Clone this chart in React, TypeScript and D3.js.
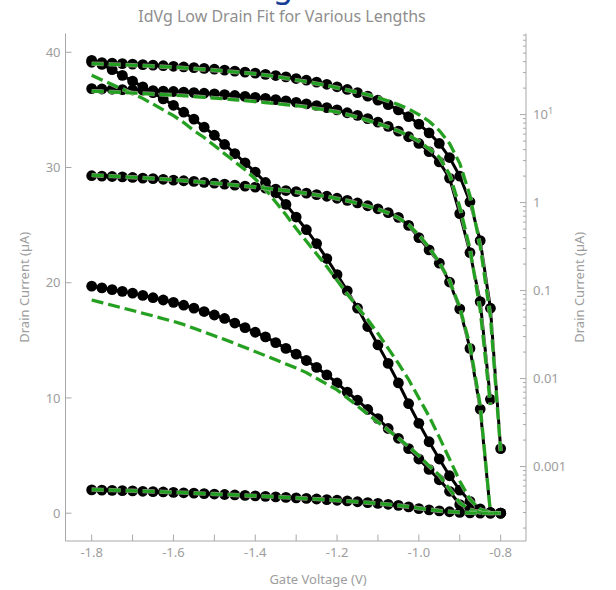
import React from 'react';
import * as d3 from 'd3';

// gate sweep, V
const gateVoltage = [
  -1.8, -1.775, -1.75, -1.725, -1.7, -1.675, -1.65, -1.625, -1.6, -1.575,
  -1.55, -1.525, -1.5, -1.475, -1.45, -1.425, -1.4, -1.375, -1.35, -1.325,
  -1.3, -1.275, -1.25, -1.225, -1.2, -1.175, -1.15, -1.125, -1.1, -1.075,
  -1.05, -1.025, -1.0, -0.975, -0.95, -0.925, -0.9, -0.875, -0.85, -0.825, -0.8,
];

// measured drain current, uA
const currentShort = [
  39.3, 38.95, 38.5, 38.0, 37.5, 37.0, 36.5, 35.95, 35.4, 34.8,
  34.2, 33.5, 32.8, 32.0, 31.2, 30.4, 29.6, 28.7, 27.8, 26.8,
  25.7, 24.6, 23.4, 22.1, 20.7, 19.3, 17.8, 16.2, 14.6, 13.0,
  11.3, 9.5, 7.8, 6.2, 4.7, 3.25, 2.0, 1.02, 0.37, 0.063, 0.0016,
];
const currentMid = [
  19.7, 19.55, 19.4, 19.25, 19.1, 18.9, 18.7, 18.5, 18.3, 18.05,
  17.8, 17.5, 17.2, 16.9, 16.5, 16.1, 15.7, 15.3, 14.8, 14.3,
  13.8, 13.25, 12.65, 12.0, 11.3, 10.5, 9.8, 9.0, 8.2, 7.35,
  6.5, 5.6, 4.7, 3.8, 2.9, 1.9, 0.75, 0.27, 0.075, 0.0058, 0,
];
const currentLong = [
  2.02, 2.0, 1.98, 1.96, 1.93, 1.9, 1.87, 1.84, 1.8, 1.77,
  1.74, 1.7, 1.66, 1.62, 1.58, 1.54, 1.5, 1.46, 1.42, 1.37,
  1.33, 1.28, 1.23, 1.18, 1.12, 1.06, 0.99, 0.92, 0.85, 0.77,
  0.68, 0.55, 0.4, 0.29, 0.205, 0.125, 0.062, 0.022, 0.0045, 0.0003, 0,
];

// model fits, uA
const fitShort = [
  38.0, 37.6, 37.2, 36.8, 36.4, 36.0, 35.5, 35.0, 34.5, 33.9,
  33.2, 32.6, 31.9, 31.2, 30.5, 29.8, 29.0, 28.1, 27.0, 25.9,
  24.7, 23.6, 22.5, 21.4, 20.2, 19.0, 17.9, 16.8, 15.6, 14.3,
  13.0, 11.6, 10.0, 8.4, 6.6, 4.7, 2.8, 1.2, 0.32, 0.05, 0.0015,
];
const fitMid = [
  18.5, 18.27, 18.04, 17.82, 17.59, 17.35, 17.12, 16.88, 16.64, 16.37,
  16.04, 15.72, 15.39, 15.07, 14.73, 14.38, 14.02, 13.67, 13.31, 12.95,
  12.6, 12.2, 11.7, 11.2, 10.7, 10.0, 9.3, 8.6, 7.9, 7.2,
  6.5, 5.8, 5.0, 4.1, 3.3, 2.1, 0.9, 0.3, 0.06, 0.005, 0,
];
const fitLong = [
  2.05, 2.02, 2.0, 1.97, 1.94, 1.91, 1.88, 1.85, 1.81, 1.78,
  1.74, 1.7, 1.66, 1.62, 1.58, 1.54, 1.5, 1.46, 1.41, 1.37,
  1.32, 1.27, 1.22, 1.17, 1.11, 1.05, 0.98, 0.91, 0.84, 0.76,
  0.67, 0.56, 0.43, 0.31, 0.21, 0.13, 0.065, 0.024, 0.005, 0.0003, 0,
];

const linTicks = [0, 10, 20, 30, 40];
const logTicks = [0.001, 0.01, 0.1, 1, 10];
const xTicks = [-1.8, -1.7, -1.6, -1.5, -1.4, -1.3, -1.2, -1.1, -1.0, -0.9, -0.8];

const measured = [currentShort, currentMid, currentLong];
const fits = [fitShort, fitMid, fitLong];

const font = '"Noto Sans", "Open Sans", sans-serif';
const grey = '#9d9d9d';
const axisCol = '#a8a8a8';
const green = '#22a022';

export default function App() {
  const width = 616, height = 590;
  const left = 65.5, right = 526, top = 33.5, bottom = 541;

  const x = d3.scaleLinear().domain([-1.864, -0.738]).range([left, right]);
  const yLin = d3.scaleLinear().domain([-2.415, 41.63]).range([bottom, top]);
  const yLog = d3.scaleLog().domain([1.425e-4, 83.5]).range([bottom, top]);

  type Pt = { v: number; i: number };
  const pts = (arr: number[]): Pt[] => arr.map((v, i) => ({ v, i }));

  const lineLin = d3.line<Pt>().x(d => x(gateVoltage[d.i])).y(d => yLin(d.v));
  const lineLog = d3.line<Pt>()
    .defined(d => d.v > 0)
    .x(d => x(gateVoltage[d.i]))
    .y(d => yLog(d.v));

  const minorLog: number[] = [];
  for (let e = -4; e <= 1; e++) {
    for (let m = 2; m <= 9; m++) {
      const v = m * Math.pow(10, e);
      if (v > 1.425e-4 && v < 83.5) minorLog.push(v);
    }
  }

  const dataMarks = (arr: number[], key: string, y: (v: number) => number, line: any, logScale: boolean) => (
    <g key={key}>
      <path d={line(pts(arr))} fill="none" stroke="#000" strokeWidth={3} />
      {pts(arr).filter(d => !logScale || d.v > 0).map(d => (
        <circle key={d.i} cx={x(gateVoltage[d.i])} cy={y(d.v)} r={5.4} fill="#000" />
      ))}
    </g>
  );

  const fitMarks = (arr: number[], key: string, line: any) => (
    <g key={key}>
      <path d={line(pts(arr))} fill="none" stroke="#f6ecdc" strokeOpacity={0.6} strokeWidth={4.4} strokeDasharray="12,5" />
      <path d={line(pts(arr))} fill="none" stroke={green} strokeWidth={3.2} strokeDasharray="12,5" />
    </g>
  );

  return (
    <svg width={width} height={height} style={{ position: 'absolute', left: 0, top: 0 }} fontFamily={font}>
      <defs>
        <clipPath id="plotClip">
          <rect x={left} y={top} width={right - left} height={bottom - top} />
        </clipPath>
      </defs>

      {/* page heading above, only its descender shows */}
      <text x={283} y={-3} fontSize={32} fill="#163c96" textAnchor="middle">g</text>
      <text x={282} y={22} fontSize={16} fill="#8e8e8e" textAnchor="middle">
        IdVg Low Drain Fit for Various Lengths
      </text>

      {/* axes */}
      <line x1={left} x2={left} y1={top} y2={bottom} stroke={axisCol} />
      <line x1={right} x2={right} y1={top} y2={bottom} stroke={axisCol} />
      <line x1={left} x2={right} y1={bottom} y2={bottom} stroke={axisCol} />

      {linTicks.map(t => (
        <g key={'l' + t}>
          <line x1={left} x2={left + 6} y1={yLin(t)} y2={yLin(t)} stroke={axisCol} />
          <text x={left - 5} y={yLin(t)} dy="0.35em" textAnchor="end" fontSize={13} fill={grey}>{t}</text>
        </g>
      ))}

      {minorLog.map(t => (
        <line key={'m' + t} x1={right - 3} x2={right} y1={yLog(t)} y2={yLog(t)} stroke={axisCol} />
      ))}
      {logTicks.map(t => (
        <g key={'r' + t}>
          <line x1={right - 6} x2={right} y1={yLog(t)} y2={yLog(t)} stroke={axisCol} />
          <text x={right + 7} y={yLog(t)} dy="0.35em" fontSize={13} fill={grey}>
            {t === 10 ? <>10<tspan dy="-5" fontSize={9}>1</tspan></> : String(t)}
          </text>
        </g>
      ))}

      {xTicks.map((t, i) => (
        <g key={'x' + t}>
          <line x1={x(t)} x2={x(t)} y1={bottom} y2={bottom - 6.5} stroke={axisCol} />
          {i % 2 === 0 && (
            <text x={x(t)} y={bottom + 16} textAnchor="middle" fontSize={13} fill={grey}>
              {t.toFixed(1)}
            </text>
          )}
        </g>
      ))}

      <text x={318} y={584} textAnchor="middle" fontSize={13} fill={grey}>Gate Voltage (V)</text>
      <text transform={`translate(29,${(top + bottom) / 2}) rotate(-90)`} textAnchor="middle" fontSize={13} fill={grey}>
        Drain Current (µA)
      </text>
      <text transform={`translate(584,${(top + bottom) / 2}) rotate(-90)`} textAnchor="middle" fontSize={13} fill={grey}>
        Drain Current (µA)
      </text>

      <g clipPath="url(#plotClip)">
        {measured.map((arr, k) => dataMarks(arr, 'lin' + k, yLin, lineLin, false))}
        {measured.map((arr, k) => dataMarks(arr, 'log' + k, yLog, lineLog, true))}
        {fits.map((arr, k) => fitMarks(arr, 'flin' + k, lineLin))}
        {fits.map((arr, k) => fitMarks(arr, 'flog' + k, lineLog))}
      </g>
    </svg>
  );
}
